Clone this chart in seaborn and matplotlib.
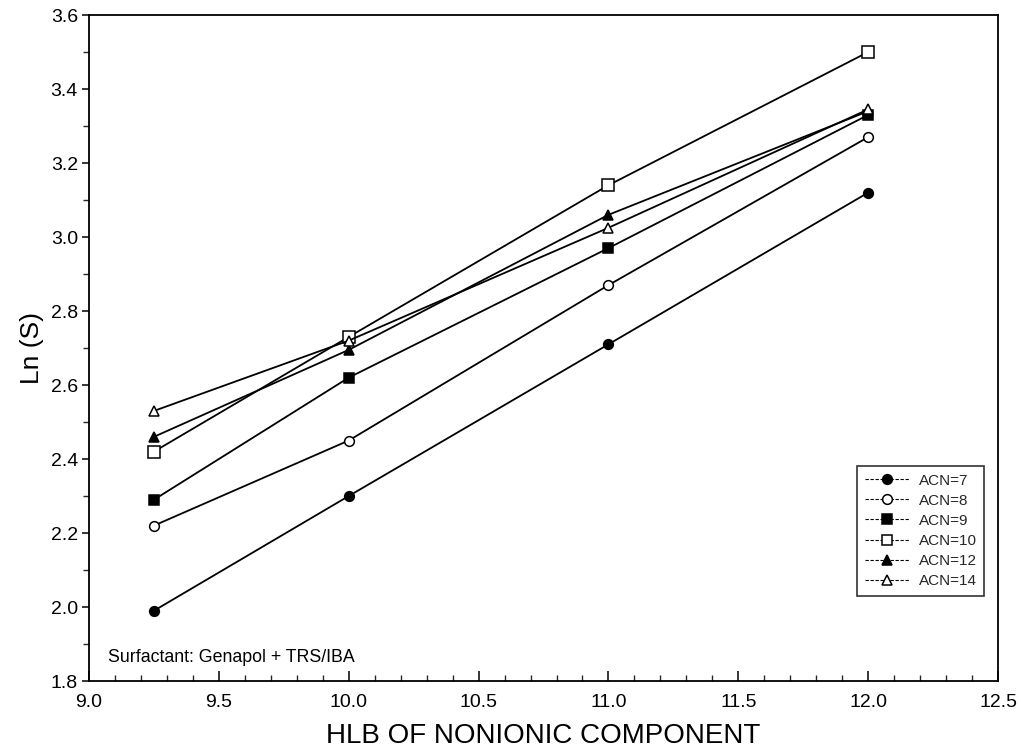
import matplotlib
matplotlib.use("Agg")
import matplotlib.pyplot as plt
import seaborn as sns
import pandas as pd
from matplotlib.ticker import MultipleLocator

sns.set_theme(style="white")
plt.rcParams['font.family'] = ['Liberation Sans', 'DejaVu Sans']

# HLB of the nonionic component
hlb = [9.25, 10.0, 11.0, 12.0]

# Ln(S) for each alkane carbon number
acn7 = [1.99, 2.30, 2.71, 3.12]
acn8 = [2.22, 2.45, 2.87, 3.27]
acn9 = [2.29, 2.62, 2.97, 3.33]
acn10 = [2.42, 2.73, 3.14, 3.50]
acn12 = [2.46, 2.695, 3.06, 3.34]
acn14 = [2.53, 2.72, 3.025, 3.345]

series_labels = ["ACN=7", "ACN=8", "ACN=9", "ACN=10", "ACN=12", "ACN=14"]
series_values = [acn7, acn8, acn9, acn10, acn12, acn14]
markers = ["o", "o", "s", "s", "^", "^"]
filled = [True, False, True, False, True, False]
msizes = [7, 7, 7, 9, 7, 7]

fig = plt.figure(figsize=(10.21, 7.51), dpi=100)
ax = fig.add_axes([0.0872, 0.0932, 0.8903, 0.8868])

for lab, vals, m, f, ms in zip(series_labels, series_values, markers, filled, msizes):
    df = pd.DataFrame({"HLB": hlb, "LnS": vals})
    sns.lineplot(data=df, x="HLB", y="LnS", ax=ax, color="black", lw=1.3,
                 marker=m, markersize=ms, markeredgecolor="black",
                 markerfacecolor="black" if f else "white", markeredgewidth=1.1,
                 label=lab)

ax.set_xlim(9.0, 12.5)
ax.set_ylim(1.8, 3.6)
ax.xaxis.set_major_locator(MultipleLocator(0.5))
ax.xaxis.set_minor_locator(MultipleLocator(0.1))
ax.yaxis.set_major_locator(MultipleLocator(0.2))
ax.yaxis.set_minor_locator(MultipleLocator(0.1))
ax.set_xticks([9.0, 9.5, 10.0, 10.5, 11.0, 11.5, 12.0, 12.5])
ax.set_xticklabels(["9.0", "9.5", "10.0", "10.5", "11.0", "11.5", "12.0", "12.5"])
ax.set_yticks([1.8, 2.0, 2.2, 2.4, 2.6, 2.8, 3.0, 3.2, 3.4, 3.6])
ax.set_yticklabels(["1.8", "2.0", "2.2", "2.4", "2.6", "2.8", "3.0", "3.2", "3.4", "3.6"])

ax.tick_params(axis="x", which="major", direction="in", length=7, width=1.1,
               bottom=True, top=False, labelsize=14, pad=9, colors="black")
ax.tick_params(axis="x", which="minor", direction="in", length=4, width=1.0,
               bottom=True, top=False)
ax.tick_params(axis="y", which="major", direction="out", length=5, width=1.1,
               left=True, right=False, labelsize=14, pad=3, colors="black")
ax.tick_params(axis="y", which="minor", direction="out", length=4, width=1.0,
               left=True, right=False)

for sp in ax.spines.values():
    sp.set_color("black")
    sp.set_linewidth(1.3)

ax.set_xlabel("HLB OF NONIONIC COMPONENT", fontsize=20, labelpad=9, color="black")
ax.set_ylabel("Ln (S)", fontsize=19, labelpad=5, color="black")

ax.text(0.021, 0.036, "Surfactant: Genapol + TRS/IBA", transform=ax.transAxes,
        fontsize=12.8, color="black", ha="left", va="center")

leg = ax.legend(loc="lower right", bbox_to_anchor=(0.985, 0.128), fontsize=11,
                frameon=True, fancybox=False, edgecolor="black", handlelength=2.9,
                labelspacing=0.4, borderpad=0.5, handletextpad=0.65,
                borderaxespad=0.0)
leg.get_frame().set_linewidth(1.2)
for line in leg.get_lines():
    line.set_linewidth(0.8)
    line.set_linestyle((0, (3, 1.5)))
    line.set_markersize(7)

fig.savefig("out.png", dpi=100)
